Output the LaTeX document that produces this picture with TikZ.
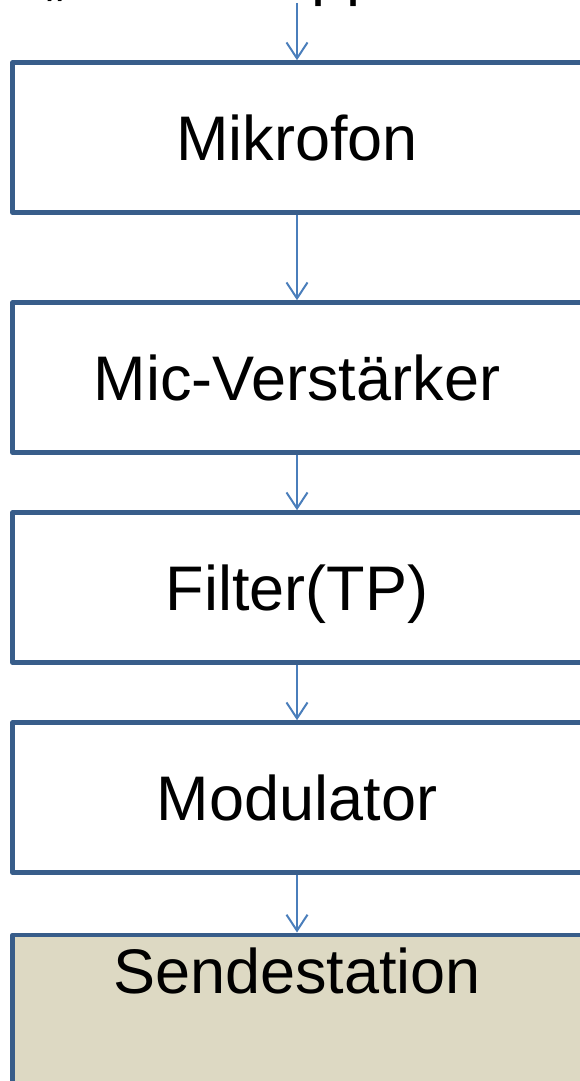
\documentclass[tikz,border=0pt]{standalone}
\usepackage{fontspec}
\setmainfont{Liberation Sans}
\usetikzlibrary{arrows.meta}
\usepackage{xcolor}
\definecolor{boxblue}{HTML}{385D8A}
\definecolor{arrowblue}{HTML}{4A7EBB}
\definecolor{sand}{HTML}{DDD9C3}

\begin{document}
\begin{tikzpicture}[x=1pt,y=-1pt]
						\tikzstyle{block} = [rectangle,fill=white,draw=boxblue,line width=4.5pt,line join=round,minimum width=577pt,minimum height=150pt,inner sep=0pt,text height=45pt,text depth=0pt,font=\fontsize{63}{75}\selectfont]
						\tikzstyle{edge} = [draw=arrowblue,line width=2pt,-{Straight Barb[length=16pt,width=21pt,line width=2pt]}]
						\useasboundingbox (0,0) rectangle (579,1081);
						\node[anchor=base west,inner sep=0pt,font=\fontsize{63}{75}\selectfont] (quote) at (45,-6) {„};
						\node[anchor=base west,inner sep=0pt,font=\fontsize{63}{75}\selectfont] (pp) at (311,-6) {pp};
						\coordinate (top) at (297,3);
						\node[block,xshift=4pt] (mikro) at (297,137.5) {\hspace{-8pt}Mikrofon};
						\node[block,xshift=4pt] (micamp) at (297,377.5) {\hspace{-8pt}Mic-Verstärker};
						\node[block,xshift=4pt] (filter) at (297,587.5) {\hspace{-8pt}Filter(TP)};
						\node[block,xshift=4pt] (mod) at (297,797.5) {\hspace{-8pt}Modulator};
						\node[block,xshift=4pt,fill=sand,anchor=north,inner ysep=14pt,text depth=120pt] (sende) at (297,932.5) {\hspace{-8pt}Sendestation};
						
						\draw[edge] (top)--(top|-mikro.north);
						\draw[edge] (top|-mikro.south)--(top|-micamp.north);
						\draw[edge] (top|-micamp.south)--(top|-filter.north);
						\draw[edge] (top|-filter.south)--(top|-mod.north);
						\draw[edge] (top|-mod.south)--(top|-sende.north);
						
\end{tikzpicture}
\end{document}
